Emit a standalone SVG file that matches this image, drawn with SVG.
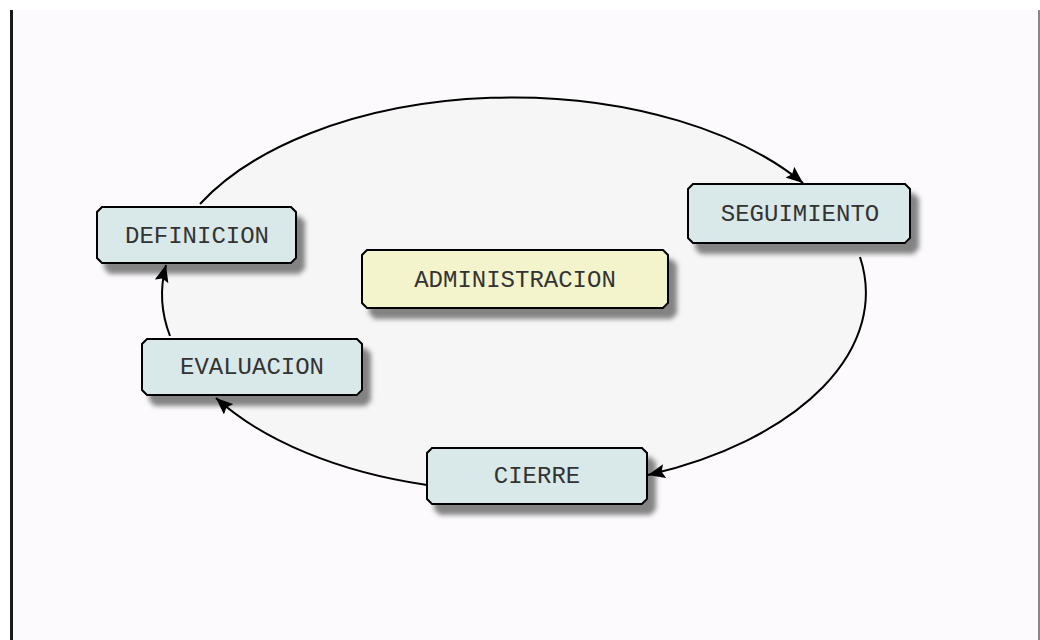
<svg xmlns="http://www.w3.org/2000/svg" width="1040" height="640" viewBox="0 0 1040 640">
<defs>
<style>
.box{stroke:#000;stroke-width:2;filter:url(#sh)}
.t{fill:#d9e8e8}
.y{fill:#f3f3cc}
.lbl{font-family:"Liberation Mono","Courier New",monospace;font-size:24px;fill:#333;text-anchor:middle}
.arc{fill:none;stroke:#000;stroke-width:2;marker-end:url(#ah)}
</style>
<filter id="sh" x="-10%" y="-20%" width="130%" height="160%">
<feDropShadow dx="8" dy="10" stdDeviation="2.5" flood-color="#666" flood-opacity="0.8"/>
</filter>
<marker id="ah" markerUnits="userSpaceOnUse" markerWidth="18" markerHeight="14" refX="17" refY="7" orient="auto">
<path d="M0,0 L17,7 L0,14 L3,7 Z" fill="#000"/>
</marker>
</defs>
<rect x="0" y="0" width="1040" height="640" fill="#ffffff"/>
<rect x="12" y="10" width="1026" height="630" fill="#fcfafd"/>
<rect x="10" y="10" width="3" height="630" fill="#1a1a1a"/>
<rect x="1038" y="10" width="2" height="630" fill="#888"/>
<ellipse cx="514" cy="293" rx="352" ry="197" fill="#f6f6f6"/>
<g id="n-definicion">
<path class="box t" d="M102,207 H291 L296,212 V258 L291,263 H102 L97,258 V212 Z"/>
<text class="lbl" x="197" y="243">DEFINICION</text>
</g>
<g id="n-seguimiento">
<path class="box t" d="M693,184 H905 L910,189 V238 L905,243 H693 L688,238 V189 Z"/>
<text class="lbl" x="800" y="221">SEGUIMIENTO</text>
</g>
<g id="n-administracion">
<path class="box y" d="M367,250 H663 L668,255 V303 L663,308 H367 L362,303 V255 Z"/>
<text class="lbl" x="515" y="287">ADMINISTRACION</text>
</g>
<g id="n-evaluacion">
<path class="box t" d="M147,339 H357 L362,344 V390 L357,395 H147 L142,390 V344 Z"/>
<text class="lbl" x="252" y="374">EVALUACION</text>
</g>
<g id="n-cierre">
<path class="box t" d="M432,448 H642 L647,453 V499 L642,504 H432 L427,499 V453 Z"/>
<text class="lbl" x="537" y="483">CIERRE</text>
</g>
<g id="connectors">
<path class="arc" d="M200,204 A352,197 0 0 1 803,183"/>
<path class="arc" d="M860,257 A352,197 0 0 1 648,475"/>
<path class="arc" d="M427,485 A352,197 0 0 1 216,398"/>
<path class="arc" d="M170,336 A352,197 0 0 1 166,265"/>
</g>
</svg>
